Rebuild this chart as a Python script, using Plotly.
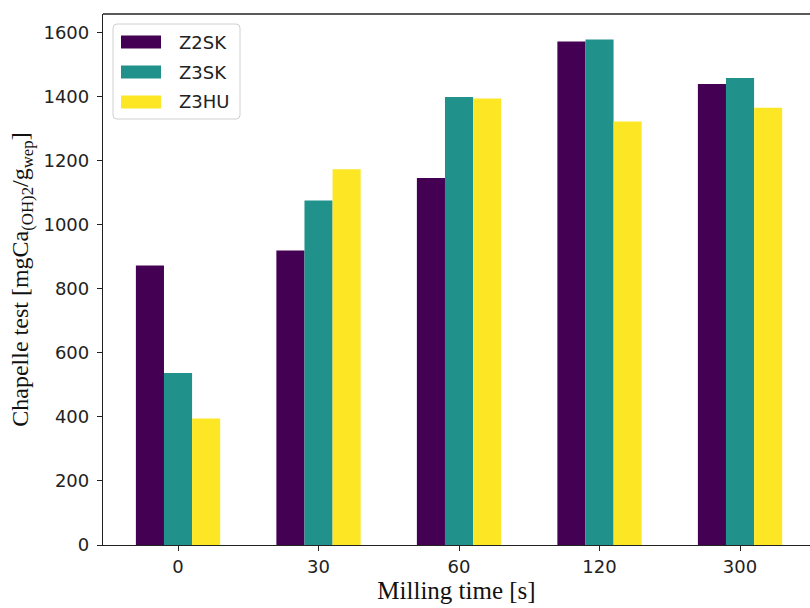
import plotly.graph_objects as go

# ---- data ----
categories = ["0", "30", "60", "120", "300"]
series_names = ["Z2SK", "Z3SK", "Z3HU"]
z2sk = [873, 920, 1147, 1573, 1440]
z3sk = [537, 1076, 1400, 1579, 1459]
z3hu = [395, 1174, 1395, 1323, 1366]
colors = ["#440154", "#21918c", "#fde725"]
y_ticks = [0, 200, 400, 600, 800, 1000, 1200, 1400, 1600]

W, H = 810, 608
L, R, T, B = 103, 0, 14, 63
PW, PH = W - L - R, H - T - B

def px(x):
    return (x - L) / PW

def py(y):
    return (H - B - y) / PH

fig = go.Figure()
xpos = list(range(len(categories)))
for name, vals, col in zip(series_names, [z2sk, z3sk, z3hu], colors):
    fig.add_trace(go.Bar(x=xpos, y=vals, name=name, marker_color=col,
                         marker_line_width=0, showlegend=False))

axis_col = "#222222"
fig.update_layout(
    width=W, height=H,
    margin=dict(l=L, r=R, t=T, b=B, pad=0),
    plot_bgcolor="white", paper_bgcolor="white",
    barmode="group", bargap=0.4, bargroupgap=0,
    xaxis=dict(
        range=[-0.534, 4.498], tickvals=xpos, ticktext=categories,
        showline=True, mirror=False, linecolor=axis_col, linewidth=1.3,
        ticks="outside", ticklen=5, tickwidth=1.2, tickcolor=axis_col,
        showgrid=False, zeroline=False,
        tickfont=dict(family="DejaVu Sans", size=18, color="#222"),
        title=dict(text="Milling time [s]", standoff=2,
                   font=dict(family="Liberation Serif", size=25, color="#111")),
    ),
    yaxis=dict(
        range=[0, 1659], tickvals=y_ticks,
        showline=True, mirror=False, linecolor=axis_col, linewidth=1.3,
        ticks="outside", ticklen=5, tickwidth=1.2, tickcolor=axis_col,
        showgrid=False, zeroline=False, ticklabelstandoff=4,
        tickfont=dict(family="DejaVu Sans", size=18, color="#222"),
        title=dict(text="Chapelle test [mgCa<sub>(OH)2</sub>/g<sub>wep</sub>]", standoff=8,
                   font=dict(family="Liberation Serif", size=24, color="#111")),
    ),
)

# top spine
fig.add_shape(type="line", xref="paper", yref="paper", x0=0, x1=1, y0=1, y1=1,
              line=dict(color=axis_col, width=1.3))

# ---- legend drawn manually (matplotlib style) ----
bx0, bx1, by0, by1 = 113, 240, 24, 119
r = 4
rx, ry = r / PW, r / PH
x0, x1, y0, y1 = px(bx0), px(bx1), py(by1), py(by0)
path = (f"M {x0+rx},{y0} L {x1-rx},{y0} Q {x1},{y0} {x1},{y0+ry} "
        f"L {x1},{y1-ry} Q {x1},{y1} {x1-rx},{y1} L {x0+rx},{y1} "
        f"Q {x0},{y1} {x0},{y1-ry} L {x0},{y0+ry} Q {x0},{y0} {x0+rx},{y0} Z")
fig.add_shape(type="path", path=path, xref="paper", yref="paper",
              fillcolor="rgba(255,255,255,0.8)", line=dict(color="#d0d0d0", width=1))
rows = [42, 72, 102]
for name, col, yc in zip(series_names, colors, rows):
    fig.add_shape(type="rect", xref="paper", yref="paper",
                  x0=px(121), x1=px(161), y0=py(yc + 6.5), y1=py(yc - 6.5),
                  fillcolor=col, line=dict(width=0))
    fig.add_annotation(x=px(177), y=py(yc), xref="paper", yref="paper",
                       text=name, showarrow=False, xanchor="left", yanchor="middle",
                       font=dict(family="DejaVu Sans", size=18, color="#222"))

fig.write_html(
    "out.html",
    config={"displayModeBar": False},
    post_script="document.body.style.margin='0';document.body.style.overflow='hidden';",
)
